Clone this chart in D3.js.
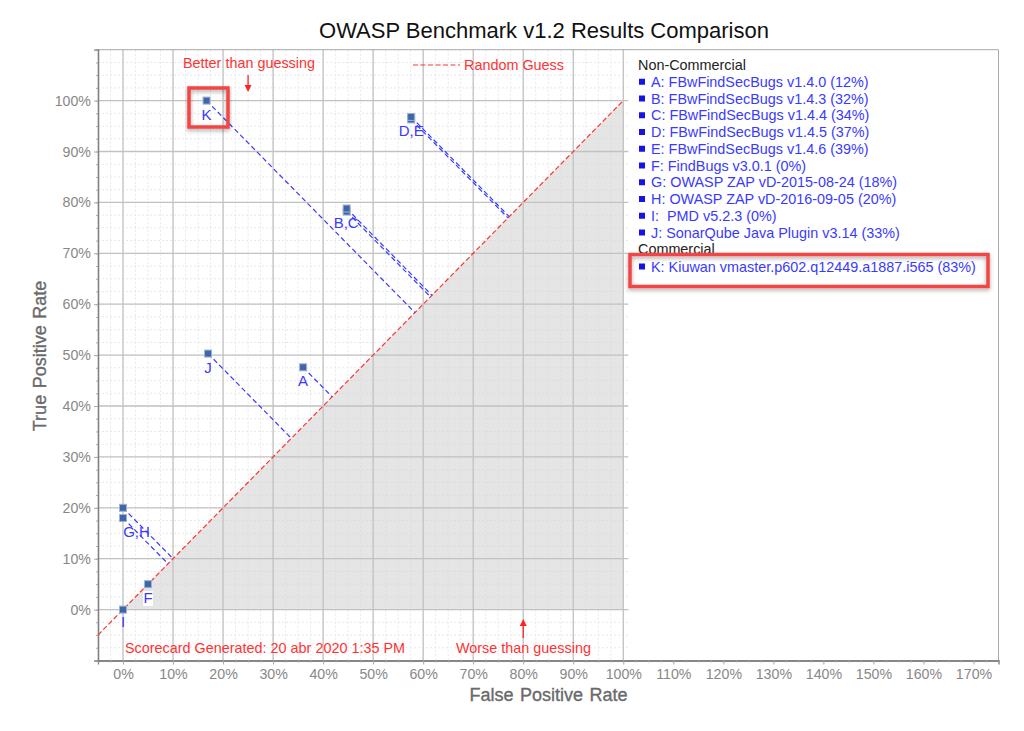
<!DOCTYPE html>
<html><head><meta charset="utf-8">
<script src="https://cdn.jsdelivr.net/npm/d3@7/dist/d3.min.js"></script>
<style>html,body{margin:0;padding:0;background:#fff;overflow:hidden}svg{display:block;font-family:"Liberation Sans",Arial,sans-serif}text{white-space:pre}</style>
</head><body><svg id="c" width="1024" height="731"></svg>
<script>
const chartTitle = "OWASP Benchmark v1.2 Results Comparison";
const xTickValues = d3.range(0, 171, 10);
const yTickValues = d3.range(0, 101, 10);
const pointLabels = ["A","B","C","D","E","F","G","H","I","J","K"];
const fprValues = [36.0, 44.7, 44.7, 57.6, 57.6, 5.0, 0, 0, 0, 17.0, 16.7];
const tprValues = [47.6, 78.2, 78.8, 96.3, 96.8, 5.0, 18.0, 20.0, 0, 50.3, 100];
const nonCommercial = ["A: FBwFindSecBugs v1.4.0 (12%)","B: FBwFindSecBugs v1.4.3 (32%)","C: FBwFindSecBugs v1.4.4 (34%)","D: FBwFindSecBugs v1.4.5 (37%)","E: FBwFindSecBugs v1.4.6 (39%)","F: FindBugs v3.0.1 (0%)","G: OWASP ZAP vD-2015-08-24 (18%)","H: OWASP ZAP vD-2016-09-05 (20%)","I:  PMD v5.2.3 (0%)","J: SonarQube Java Plugin v3.14 (33%)"];
const commercial = ["K: Kiuwan vmaster.p602.q12449.a1887.i565 (83%)"];
const pointTexts = [
  {t:"A",x:36,y:44},{t:"B,C",x:44.6,y:75},{t:"D,E",x:57.6,y:93},{t:"F",x:5,y:1.3},
  {t:"G,H",x:2.7,y:14.2},{t:"I",x:0,y:-3.5},{t:"J",x:17,y:46.5},{t:"K",x:16.7,y:96.2}];

const svg = d3.select("#c");
const x = d3.scaleLinear().domain([-5,175]).range([98,998.5]);
const y = d3.scaleLinear().domain([-10,110]).range([660.5,49.7]);
const blue="#3a3aff", red="#ff3333", grey="#888";

svg.append("text").attr("x",544).attr("y",38).attr("text-anchor","middle").attr("font-size",22).attr("fill","#111").text(chartTitle);

const minorX=d3.range(-5,101.1,2.5), minorY=d3.range(-10,110.1,2.5);
const g=svg.append("g");
g.selectAll(".mx").data(minorX).join("line").attr("x1",d=>x(d)).attr("x2",d=>x(d)).attr("y1",y(110)).attr("y2",y(-10)).attr("stroke","#e8e8e8").attr("stroke-dasharray","2 2");
g.selectAll(".my").data(minorY).join("line").attr("y1",d=>y(d)).attr("y2",d=>y(d)).attr("x1",x(-5)).attr("x2",x(101)).attr("stroke","#e8e8e8").attr("stroke-dasharray","2 2");
g.append("path").datum([[0,0],[100,100],[100,0]]).attr("d",d3.line().x(d=>x(d[0])).y(d=>y(d[1]))).attr("fill","#d4d4d4").attr("fill-opacity",0.6);
g.selectAll(".vx").data(d3.range(0,101,10)).join("line").attr("x1",d=>x(d)).attr("x2",d=>x(d)).attr("y1",y(110)).attr("y2",y(-10)).attr("stroke","#c2c2c2").attr("stroke-width",1.3);
g.selectAll(".hy").data(yTickValues).join("line").attr("y1",d=>y(d)).attr("y2",d=>y(d)).attr("x1",x(-5)).attr("x2",x(101)).attr("stroke","#c2c2c2").attr("stroke-width",1.3);

svg.append("path").attr("d",`M${x(-5)},${y(110)}H${x(175)}V${y(-10)}`).attr("fill","none").attr("stroke","#aaa");

const fmt=d=>d+"%";
const ax=svg.append("g").attr("transform",`translate(0,${y(-10)})`).call(d3.axisBottom(x).tickValues(xTickValues).tickFormat(fmt).tickSize(4).tickPadding(4));
const ay=svg.append("g").attr("transform",`translate(${x(-5)},0)`).call(d3.axisLeft(y).tickValues(yTickValues).tickFormat(fmt).tickSize(4).tickPadding(3));
const mxa=svg.append("g").attr("transform",`translate(0,${y(-10)})`).call(d3.axisBottom(x).tickValues(d3.range(-5,175.1,2.5)).tickFormat("").tickSize(2));
const mya=svg.append("g").attr("transform",`translate(${x(-5)},0)`).call(d3.axisLeft(y).tickValues(minorY).tickFormat("").tickSize(2));
[ax,ay,mxa,mya].forEach(a=>{a.selectAll("path").attr("stroke","#808080").attr("stroke-width",1.3);a.selectAll("line").attr("stroke","#aaa");a.selectAll("text").attr("fill",grey).attr("font-size",14.2).attr("font-family","Liberation Sans");});

const titleAttrs=s=>s.attr("text-anchor","middle").attr("font-size",18).attr("fill","#6a6a6a").attr("stroke","#6a6a6a").attr("stroke-width",.35);
svg.append("text").attr("x",548.5).attr("y",701).attr("word-spacing",1.5).call(titleAttrs).text("False Positive Rate");
svg.append("text").attr("transform","translate(46,356) rotate(-90)").attr("word-spacing",1.5).call(titleAttrs).text("True Positive Rate");

svg.append("line").attr("x1",x(-5)).attr("y1",y(-5)).attr("x2",x(100)).attr("y2",y(100)).attr("stroke",red).attr("stroke-width",1.2).attr("stroke-dasharray","5 2.5");

const pts=pointLabels.map((l,i)=>({l,fx:fprValues[i],ty:tprValues[i]}));
svg.selectAll(".guide").data(pts.filter(p=>p.ty-p.fx>1)).join("line")
 .attr("x1",d=>x(d.fx)).attr("y1",d=>y(d.ty)).attr("x2",d=>x((d.fx+d.ty)/2)).attr("y2",d=>y((d.fx+d.ty)/2))
 .attr("stroke","#3a3aff").attr("stroke-width",1.2).attr("stroke-dasharray","5 3");
svg.selectAll(".pt").data(pts).join("rect").attr("x",d=>x(d.fx)-3.5).attr("y",d=>y(d.ty)-3.5).attr("width",7).attr("height",7).attr("fill","#3f66a8").attr("stroke","#9fb3d3").attr("stroke-width",1);

svg.append("rect").attr("x",x(5)-5).attr("y",y(1.3)-12).attr("width",10).attr("height",15).attr("fill","#fff");
svg.selectAll(".lbl").data(pointTexts).join("text").attr("x",d=>x(d.x)).attr("y",d=>y(d.y)).attr("text-anchor","middle").attr("font-size",15).attr("fill",blue).text(d=>d.t);

const ann=(t,xx,yy)=>svg.append("text").attr("x",xx).attr("y",yy).attr("font-size",14.4).attr("fill",red).text(t);
ann("Better than guessing",183,68);
ann("Random Guess",464,70);
svg.append("line").attr("x1",413).attr("x2",460).attr("y1",65).attr("y2",65).attr("stroke",red).attr("stroke-dasharray","5 2.5");
ann("Scorecard Generated: 20 abr 2020 1:35 PM",125,653);
ann("Worse than guessing",456,653);
svg.append("line").attr("x1",x(25)).attr("x2",x(25)).attr("y1",75).attr("y2",86).attr("stroke","#f22").attr("stroke-width",1.3);
svg.append("path").attr("d",`M${x(25)-3.5},85h7l-3.5,7z`).attr("fill","#f22");
svg.append("line").attr("x1",x(80)).attr("x2",x(80)).attr("y1",638).attr("y2",625).attr("stroke","#f22").attr("stroke-width",1.3);
svg.append("path").attr("d",`M${x(80)-3.5},626h7l-3.5,-7z`).attr("fill","#f22");

const lg=svg.append("g").attr("font-size",14.4);
const lineH=16.75, y0=70;
lg.append("text").attr("x",638).attr("y",y0).attr("fill","#222").text("Non-Commercial");
nonCommercial.forEach((s,i)=>{const yy=y0+lineH*(i+1);
 lg.append("rect").attr("x",639).attr("y",yy-8).attr("width",6).attr("height",6).attr("fill","#1414e6");
 lg.append("text").attr("x",651).attr("y",yy).attr("fill",blue).text(s);});
lg.append("text").attr("x",638).attr("y",y0+lineH*11).attr("fill","#222").text("Commercial");
commercial.forEach((s,i)=>{const yy=y0+lineH*(12+i)+.5;
 lg.append("rect").attr("x",639).attr("y",yy-8).attr("width",6).attr("height",6).attr("fill","#1414e6");
 lg.append("text").attr("x",651).attr("y",yy).attr("fill",blue).text(s);});

const defs=svg.append("defs");
defs.append("filter").attr("id","sh").attr("x","-10%").attr("y","-30%").attr("width","120%").attr("height","160%")
 .append("feDropShadow").attr("dx",0).attr("dy",2).attr("stdDeviation",2).attr("flood-color","#000").attr("flood-opacity",.35);
[[189,88,39,39],[630,254.5,358,32]].forEach(b=>svg.append("rect").attr("x",b[0]).attr("y",b[1]).attr("width",b[2]).attr("height",b[3]).attr("fill","none").attr("stroke","#f44444").attr("stroke-width",3.5).attr("filter","url(#sh)"));
</script></body></html>
